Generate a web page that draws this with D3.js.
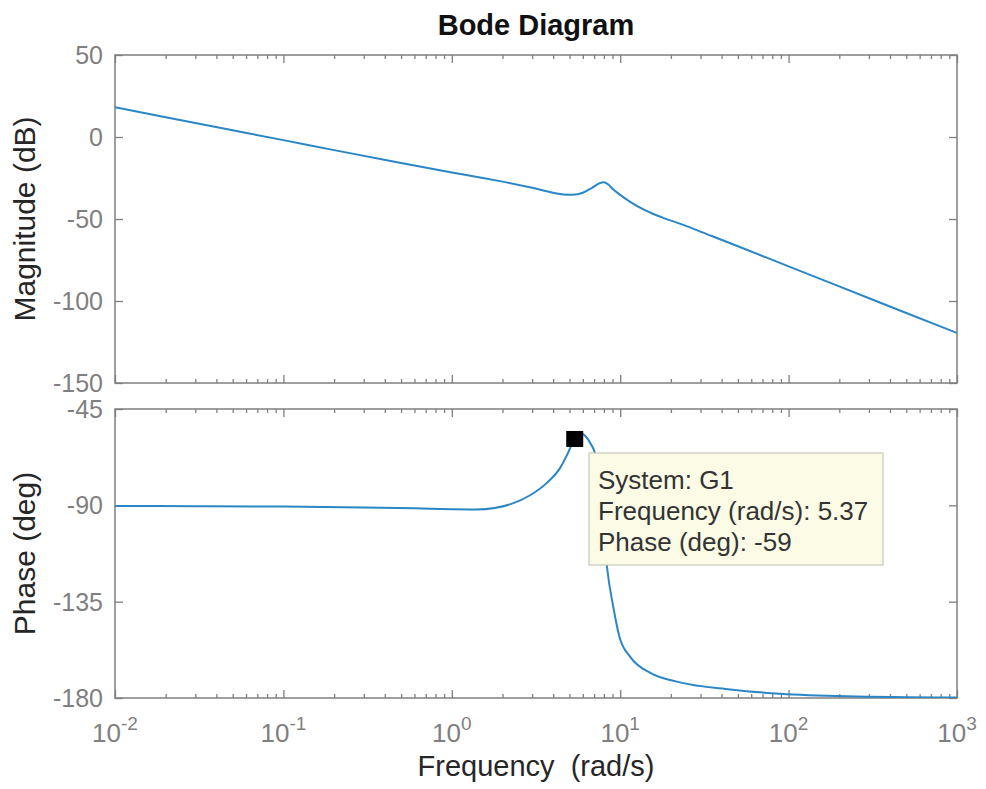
<!DOCTYPE html>
<html>
<head>
<meta charset="utf-8">
<script src="https://cdn.jsdelivr.net/npm/d3@7"></script>
<style>
  body { margin: 0; background: #fff; }
  svg { font-family: "Liberation Sans", Arial, Helvetica, sans-serif; }
</style>
</head>
<body>
<svg width="986" height="789"></svg>
<script>
// magnitude curve
const magFreq = [0.01, 0.02, 0.05, 0.1, 0.2, 0.5, 1, 1.5, 2, 3, 4, 4.6, 5.2, 6, 6.8, 7.5, 8, 8.5, 9, 10, 11.4, 14, 18, 22.6, 35, 50, 100, 200, 500, 1000]
const magDb = [18.1, 12, 4.1, -1.9, -8, -15.9, -21.6, -24.8, -27.2, -31, -34, -35, -35.2, -34, -31, -28.3, -27.6, -29, -31.5, -35.3, -39.4, -44.6, -49.3, -52.8, -60.4, -66.6, -78.9, -91.1, -107.3, -119.5]

// phase curve
const phaseFreq = [0.01, 0.03, 0.1, 0.3, 0.6, 1, 1.4, 1.8, 2.3, 2.9, 3.67, 4.4, 4.9, 5.37, 6, 6.35, 6.7, 7.07, 7.5, 8, 8.35, 9.1, 9.9, 11.5, 15.2, 22.6, 45, 89, 222, 1000]
const phaseDeg = [-90.3, -90.4, -90.6, -91, -91.4, -91.8, -91.9, -91.2, -89.1, -85.4, -79.5, -72.5, -65.5, -59, -56.8, -58.5, -61.5, -65.6, -80, -103, -118.8, -137.5, -151.5, -160.9, -168.4, -172.7, -176, -178, -179.2, -179.8]

const magTicks = [-150, -100, -50, 0, 50]
const phaseTicks = [-180, -135, -90, -45]
const decades = [-2, -1, 0, 1, 2, 3]

// data tip
const tipFreq = 5.37
const tipPhase = -59
const tipLines = ["System: G1", "Frequency (rad/s): 5.37", "Phase (deg): -59"]

const svg = d3.select("svg")
const left = 115, right = 957
const topPanel = { y0: 55, y1: 383 }
const botPanel = { y0: 409, y1: 698 }

const x = d3.scaleLog().domain([0.01, 1000]).range([left, right])
const yMag = d3.scaleLinear().domain([-150, 50]).range([topPanel.y1, topPanel.y0])
const yPh = d3.scaleLinear().domain([-180, -45]).range([botPanel.y1, botPanel.y0])

const minors = []
decades.slice(0, -1).forEach(e => {
    for (let k = 2; k <= 9; k++) minors.push(k * Math.pow(10, e))
})
const majors = decades.map(e => Math.pow(10, e))

const axisCol = "#7f7f7f"
const labelCol = "#262626"

function panel(p, y, yTicks, name, clipId) {
    const g = svg.append("g")

    g.append("clipPath").attr("id", clipId)
        .append("rect")
        .attr("x", left).attr("y", p.y0)
        .attr("width", right - left).attr("height", p.y1 - p.y0)

    // ticks on four sides, pointing in
    const sides = [
        [d3.axisBottom(x).tickValues(majors).tickSize(-8), 0, p.y1],
        [d3.axisBottom(x).tickValues(minors).tickSize(-4), 0, p.y1],
        [d3.axisTop(x).tickValues(majors).tickSize(-8), 0, p.y0],
        [d3.axisTop(x).tickValues(minors).tickSize(-4), 0, p.y0],
        [d3.axisLeft(y).tickValues(yTicks).tickSize(-8), left, 0],
        [d3.axisRight(y).tickValues(yTicks).tickSize(-8), right, 0]
    ]
    sides.forEach(([ax, tx, ty]) => {
        const a = g.append("g")
            .attr("transform", `translate(${tx},${ty})`)
            .call(ax.tickFormat(""))
        a.select(".domain").remove()
        a.selectAll("line").attr("stroke", axisCol).attr("stroke-width", 1.3)
        a.selectAll("text").remove()
    })

    // y tick labels
    g.selectAll(".ylab")
        .data(yTicks)
        .enter().append("text")
        .attr("x", left - 12)
        .attr("y", d => y(d))
        .attr("dy", "0.36em")
        .attr("text-anchor", "end")
        .attr("font-size", 25)
        .attr("fill", axisCol)
        .text(d => d)

    g.append("rect")
        .attr("x", left).attr("y", p.y0)
        .attr("width", right - left).attr("height", p.y1 - p.y0)
        .attr("fill", "none")
        .attr("stroke", axisCol)
        .attr("stroke-width", 1.5)

    g.append("text")
        .attr("transform", `translate(35,${(p.y0 + p.y1) / 2}) rotate(-90)`)
        .attr("text-anchor", "middle")
        .attr("font-size", 30)
        .attr("fill", labelCol)
        .text(name)

    return g
}

const gMag = panel(topPanel, yMag, magTicks, "Magnitude (dB)", "clipMag")
const gPh = panel(botPanel, yPh, phaseTicks, "Phase (deg)", "clipPh")

const lijn = (xs, ys, y) => d3.line()
    .x(i => x(xs[i]))
    .y(i => y(ys[i]))
    .curve(d3.curveMonotoneX)(d3.range(xs.length))

gMag.append("path")
    .attr("d", lijn(magFreq, magDb, yMag))
    .attr("clip-path", "url(#clipMag)")
    .attr("fill", "none")
    .attr("stroke", "#2a86c4")
    .attr("stroke-width", 2)

gPh.append("path")
    .attr("d", lijn(phaseFreq, phaseDeg, yPh))
    .attr("clip-path", "url(#clipPh)")
    .attr("fill", "none")
    .attr("stroke", "#2a86c4")
    .attr("stroke-width", 2)

// x tick labels 10^n
const xl = svg.append("g")
xl.selectAll("text")
    .data(decades)
    .enter().append("text")
    .attr("x", d => x(Math.pow(10, d)))
    .attr("y", 742)
    .attr("text-anchor", "middle")
    .attr("fill", axisCol)
    .each(function (d) {
        const t = d3.select(this)
        t.append("tspan").attr("font-size", 26).text("10")
        t.append("tspan").attr("font-size", 19).attr("dy", -12).text(d)
    })

svg.append("text")
    .attr("x", (left + right) / 2)
    .attr("y", 776)
    .attr("text-anchor", "middle")
    .attr("font-size", 29)
    .attr("fill", labelCol)
    .attr("xml:space", "preserve")
    .text("Frequency  (rad/s)")

svg.append("text")
    .attr("x", (left + right) / 2)
    .attr("y", 35)
    .attr("text-anchor", "middle")
    .attr("font-size", 29)
    .attr("font-weight", "bold")
    .attr("fill", "#111")
    .text("Bode Diagram")

// data tip
const mx = x(tipFreq), my = yPh(tipPhase)
const tip = svg.append("g")
tip.append("rect")
    .attr("x", 589).attr("y", 453)
    .attr("width", 294).attr("height", 112)
    .attr("fill", "#fbfbe6")
    .attr("stroke", "#c8c8c0")
    .attr("stroke-width", 1.2)
tip.selectAll("text")
    .data(tipLines)
    .enter().append("text")
    .attr("x", 598)
    .attr("y", (d, i) => 489 + i * 31)
    .attr("font-size", 26)
    .attr("fill", "#333")
    .text(d => d)

svg.append("rect")
    .attr("x", mx - 8.5).attr("y", my - 8)
    .attr("width", 17).attr("height", 16)
    .attr("fill", "#000")
</script>
</body>
</html>
